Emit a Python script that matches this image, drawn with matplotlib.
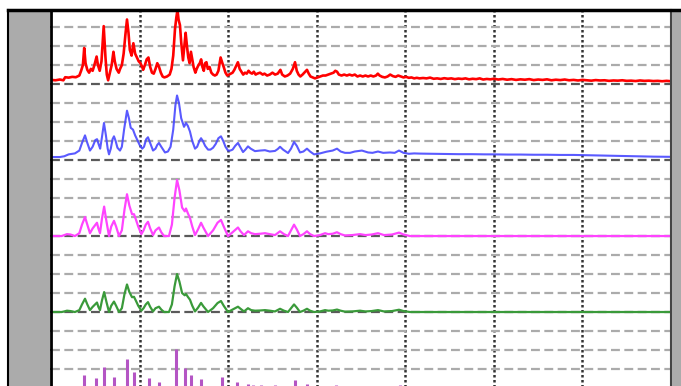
import matplotlib
matplotlib.use("Agg")
import matplotlib.pyplot as plt
from matplotlib.patches import Rectangle
from matplotlib.lines import Line2D

# x positions are in grid units (one vertical grid line every 100)
red_x = [0, 5, 10, 14, 16, 20, 24, 28, 32, 34, 36, 37.5, 39, 41, 43, 45, 47, 49, 51.5, 53,
         55, 57, 59.5, 61.5, 63, 64.5, 66.5, 68.5, 70.5, 72, 74, 76.5, 78, 80, 82, 84, 85.8,
         87.5, 89, 91, 93, 95, 97, 99, 101, 103, 104, 106, 108, 110, 112, 114, 116, 118, 120,
         122, 124, 126, 128, 131, 134, 136, 138, 140, 141.5, 142.8, 144, 145.6, 147, 149,
         150.5, 152, 153.5, 155, 156.5, 158, 159.5, 161, 163, 164.5, 166.5, 168, 169.5, 171,
         172.5, 174, 175.5, 177, 179, 181, 183, 185, 187, 189, 191.5, 193.5, 195, 197, 199,
         201, 203, 205, 207, 209, 211, 213, 215, 217, 219, 221, 223, 225, 227, 229, 231, 233,
         236, 239, 241, 244, 247, 250, 253, 256, 259, 261, 264, 267, 270, 273, 275.5, 277.5,
         279.5, 281.5, 284, 287, 289, 291, 293, 295.5, 298, 301, 304, 307, 310, 313, 316, 319,
         321, 323, 325, 328, 331, 334, 337, 340, 343, 346, 349, 352, 355, 358, 361, 364, 367,
         369, 371, 374, 377, 380, 383, 386, 389, 392, 395, 398, 401, 404, 407, 410, 413, 416,
         420, 424, 428, 432, 436, 440, 444, 448, 452, 456, 460, 464, 468, 472, 476, 480, 484,
         488, 492, 496, 500, 505, 510, 515, 520, 525, 530, 535, 540, 545, 550, 555, 560, 565,
         570, 575, 580, 585, 590, 595, 600, 605, 610, 615, 620, 625, 630, 635, 640, 645, 650,
         655, 660, 665, 670, 675, 680, 685, 690, 695, 700]
red_y = [0.22, 0.2, 0.24, 0.2, 0.36, 0.34, 0.38, 0.36, 0.45, 0.7, 1.0, 1.9, 1.1, 0.75, 0.6, 0.8,
         0.7, 1.0, 1.45, 1.0, 0.7, 1.2, 3.05, 1.4, 0.5, 0.2, 0.6, 1.0, 1.7, 1.2, 0.8, 0.6, 0.8,
         1.0, 1.6, 2.6, 3.4, 2.7, 1.8, 1.5, 2.15, 1.6, 1.4, 1.2, 1.1, 0.9, 0.75, 1.0, 1.3, 1.4,
         0.9, 0.6, 0.55, 0.8, 1.1, 0.9, 0.6, 0.4, 0.35, 0.4, 0.5, 0.8, 1.5, 2.9, 3.5, 3.9, 3.4,
         3.1, 2.2, 1.25, 2.0, 2.7, 2.0, 1.4, 1.1, 1.7, 1.3, 0.9, 0.6, 0.8, 1.0, 1.1, 1.3, 0.9,
         0.7, 1.1, 1.15, 0.8, 0.9, 0.6, 0.5, 0.45, 0.5, 0.7, 1.4, 1.1, 0.9, 0.6, 0.45, 0.5,
         0.55, 0.6, 0.75, 0.95, 1.15, 0.8, 0.65, 0.5, 0.6, 0.55, 0.7, 0.6, 0.55, 0.65, 0.5,
         0.55, 0.6, 0.5, 0.55, 0.45, 0.5, 0.6, 0.5, 0.55, 0.75, 0.5, 0.4, 0.45, 0.55, 0.8,
         1.15, 0.7, 0.5, 0.4, 0.5, 0.65, 0.75, 0.55, 0.4, 0.35, 0.3, 0.35, 0.4, 0.45, 0.45,
         0.5, 0.55, 0.6, 0.7, 0.65, 0.5, 0.45, 0.5, 0.45, 0.5, 0.45, 0.5, 0.4, 0.45, 0.4, 0.45,
         0.4, 0.45, 0.4, 0.45, 0.55, 0.45, 0.38, 0.35, 0.4, 0.5, 0.42, 0.38, 0.45, 0.4, 0.35,
         0.38, 0.33, 0.35, 0.3, 0.33, 0.3, 0.32, 0.3, 0.34, 0.28, 0.3, 0.27, 0.31, 0.28, 0.3,
         0.26, 0.29, 0.27, 0.3, 0.25, 0.28, 0.26, 0.3, 0.24, 0.27, 0.25, 0.28, 0.24, 0.27,
         0.23, 0.26, 0.22, 0.25, 0.23, 0.26, 0.21, 0.24, 0.22, 0.25, 0.2, 0.23, 0.21, 0.24,
         0.2, 0.22, 0.19, 0.22, 0.2, 0.18, 0.21, 0.19, 0.2, 0.17, 0.19, 0.18, 0.2, 0.17, 0.18,
         0.16, 0.19, 0.17, 0.18, 0.16, 0.17, 0.15, 0.17, 0.15]

blue_x = [0, 10, 15, 20, 27, 32, 35, 38.4, 41, 44, 47, 50, 52, 54, 55.5, 57.5, 59.8, 62, 64,
          65.5, 67.5, 69.5, 71.1, 73, 75, 77.9, 80, 82.5, 85.8, 88, 90, 92.6, 95, 97.5, 100,
          103, 105, 107.5, 109.5, 112, 115.2, 118, 120, 121.9, 124.5, 128.7, 132, 135, 138,
          140.5, 142.3, 144.5, 147, 150.2, 152.4, 154.5, 156.9, 159.5, 162.6, 165, 167.5,
          169.4, 171.5, 174, 177.3, 180, 183, 186, 189, 191.9, 194.5, 197, 199.8, 202.5, 205,
          208, 211.1, 214, 216.8, 219.5, 222.4, 225.5, 230.3, 236, 241.6, 247, 252.9, 256,
          258.6, 262, 267.6, 271, 274.4, 277.5, 281.1, 285, 289, 292.5, 297, 303.7, 311, 318,
          322.9, 327, 331.9, 337.6, 343, 351, 358, 363, 369.2, 375, 382.8, 388, 392.9, 398,
          404, 410, 416.6, 430, 445, 460, 475, 490, 500, 515, 530, 545, 560, 575, 590, 600,
          620, 640, 660, 680, 700]
blue_y = [0.16, 0.16, 0.2, 0.3, 0.35, 0.5, 0.9, 1.3, 0.9, 0.5, 0.7, 1.05, 1.1, 0.8, 0.6, 1.2,
          1.95, 1.3, 0.6, 0.3, 0.6, 1.1, 1.25, 1.0, 0.65, 0.5, 0.7, 1.6, 2.6, 2.2, 1.7, 1.6,
          1.3, 1.05, 0.8, 0.6, 0.7, 1.1, 1.2, 0.9, 0.5, 0.6, 0.8, 0.9, 0.7, 0.4, 0.45, 0.7,
          1.6, 2.9, 3.4, 3.0, 2.2, 1.75, 1.95, 1.8, 1.5, 1.0, 0.6, 0.7, 1.0, 1.15, 1.0, 0.75,
          0.55, 0.55, 0.65, 0.85, 1.15, 1.25, 1.0, 0.7, 0.5, 0.5, 0.55, 0.75, 0.9, 0.65, 0.42,
          0.55, 0.72, 0.6, 0.47, 0.5, 0.52, 0.45, 0.48, 0.58, 0.7, 0.55, 0.37, 0.6, 0.95, 0.75,
          0.4, 0.45, 0.6, 0.45, 0.3, 0.35, 0.44, 0.5, 0.6, 0.45, 0.38, 0.38, 0.45, 0.5, 0.4,
          0.38, 0.45, 0.38, 0.4, 0.38, 0.5, 0.38, 0.33, 0.35, 0.34, 0.33, 0.32, 0.31, 0.31,
          0.3, 0.3, 0.29, 0.29, 0.28, 0.28, 0.27, 0.27, 0.26, 0.24, 0.22, 0.2, 0.18, 0.17]

peak_x = [0, 12, 15, 18, 22, 27, 32, 35, 38.4, 41, 44, 47, 51.9, 53.5, 55.3, 57.5, 60, 62.5,
          65.5, 68, 71.1, 73.5, 76.8, 80, 83, 85.8, 88.5, 91.5, 93.7, 96, 98.5, 102, 104.5,
          107, 109.5, 112, 115.2, 118, 121.9, 124.5, 127.6, 133.2, 136.5, 139.5, 142.3, 145,
          148, 151, 152.4, 154.5, 156.9, 159.5, 162.6, 166, 169.4, 172, 177.3, 183, 188, 191.9,
          195, 199.8, 205, 211.1, 214, 217.9, 222.4, 226, 230.3, 236, 241.6, 247, 252.9, 258.6,
          263, 267.6, 271, 274.4, 277.5, 281.1, 285, 289, 292.5, 296.9, 303.7, 309.4, 313, 318,
          322.9, 327, 331.9, 340, 348.9, 355, 362, 369.2, 376, 385, 392.9, 398, 405.3, 700]
magenta_y = [0, 0, 0.05, 0.1, 0.08, 0, 0.15, 0.6, 1.0, 0.6, 0.15, 0.4, 0.7, 0.4, 0.15, 0.9,
             1.55, 0.8, 0, 0.5, 0.8, 0.5, 0, 0.3, 1.4, 2.2, 1.6, 1.15, 1.15, 0.85, 0.5, 0.1,
             0.3, 0.6, 0.75, 0.4, 0.05, 0.3, 0.45, 0.2, 0, 0, 0.6, 2.0, 2.95, 2.4, 1.5, 1.3,
             1.45, 1.2, 0.95, 0.5, 0.05, 0.35, 0.7, 0.45, 0, 0.3, 0.7, 0.85, 0.5, 0, 0.2, 0.45,
             0.25, 0.05, 0.25, 0.15, 0.1, 0.12, 0.15, 0.1, 0.05, 0.25, 0.1, 0, 0.3, 0.6, 0.35,
             0, 0.1, 0.25, 0.1, 0, 0.05, 0.15, 0.1, 0.12, 0.2, 0.1, 0.03, 0.05, 0.1, 0.05, 0.08,
             0.15, 0.05, 0.08, 0.18, 0.08, 0, 0]
green_y = [0, 0, 0.03, 0.07, 0.05, 0, 0.1, 0.4, 0.7, 0.4, 0.1, 0.27, 0.5, 0.27, 0.1, 0.6,
           1.05, 0.55, 0, 0.33, 0.55, 0.33, 0, 0.2, 0.95, 1.45, 1.05, 0.78, 0.8, 0.58, 0.33,
           0.07, 0.2, 0.4, 0.52, 0.27, 0.03, 0.2, 0.28, 0.13, 0, 0, 0.4, 1.35, 2.0, 1.6, 1.0,
           0.88, 0.95, 0.8, 0.65, 0.33, 0.03, 0.23, 0.48, 0.3, 0, 0.2, 0.47, 0.58, 0.33, 0,
           0.13, 0.28, 0.17, 0.03, 0.2, 0.1, 0.07, 0.08, 0.1, 0.07, 0.03, 0.17, 0.07, 0, 0.2,
           0.4, 0.23, 0, 0.07, 0.17, 0.07, 0, 0.03, 0.1, 0.07, 0.08, 0.13, 0.07, 0.02, 0.03,
           0.07, 0.03, 0.05, 0.1, 0.03, 0.05, 0.12, 0.05, 0, 0]

stem_x = [18, 37.3, 50.8, 59.8, 71.1, 85.8, 93.7, 110.6, 121.9, 141.1, 151.3, 158.1, 169.4,
          193.1, 210.0, 222.4, 228.1, 237.1, 252.9, 275.5, 289.0, 312.7, 321.8, 351.1, 369.2,
          394.0]
stem_h = [0.05, 0.68, 0.52, 1.1, 0.58, 1.53, 0.84, 0.55, 0.33, 2.05, 1.05, 0.68, 0.47, 0.58,
          0.3, 0.2, 0.18, 0.15, 0.18, 0.42, 0.2, 0.12, 0.15, 0.1, 0.12, 0.15]

W, H = 681, 386


def fx(px):
    return px / W


def fy(py):
    return 1 - py / H


fig = plt.figure(figsize=(W / 100, H / 100), dpi=100)
fig.patch.set_facecolor("white")

# grey frame strips on the left and right
fig.add_artist(Rectangle((fx(8), 0), fx(50) - fx(8), fy(10), transform=fig.transFigure,
                         facecolor="#ababab", edgecolor="none"))
fig.add_artist(Rectangle((fx(672), 0), 1 - fx(672), fy(10), transform=fig.transFigure,
                         facecolor="#ababab", edgecolor="none"))
fig.add_artist(Line2D([fx(8), fx(8)], [0, fy(10)], transform=fig.transFigure,
                      color="black", lw=1.5))

ax = fig.add_axes([fx(51), fy(388), fx(671) - fx(51), fy(10) - fy(388)])
ax.set_xlim(0, 700)
ax.set_ylim(0, 19.9)

ax.set_xticks(range(100, 700, 100))
ax.set_yticks([0, 4, 8, 12, 16])
ax.set_yticks([v for v in range(1, 20) if v % 4 != 0], minor=True)
ax.set_axisbelow(True)
ax.grid(True, which="major", axis="x", color="#333333", linestyle=(0, (1, 1)), lw=1.8)
ax.grid(True, which="major", axis="y", color="#5a5a5a", linestyle=(0, (4, 2)), lw=1.6)
ax.grid(True, which="minor", axis="y", color="#ababab", linestyle=(0, (4, 2)), lw=1.6)
ax.tick_params(axis="x", length=0, labelbottom=False)
ax.tick_params(axis="y", which="both", direction="out", length=3, width=1.2,
               color="#333333", labelleft=False)

for side in ["left", "top"]:
    ax.spines[side].set_color("black")
    ax.spines[side].set_linewidth(2)
ax.spines["right"].set_color("#444444")
ax.spines["right"].set_linewidth(1.5)
ax.spines["bottom"].set_visible(False)

ax.plot(red_x, [v + 16 for v in red_y], color="#ff0000", lw=1.9)
ax.plot(blue_x, [v + 12 for v in blue_y], color="#4848ff", lw=1.5, alpha=0.9)
ax.plot(peak_x, [v + 8 for v in magenta_y], color="#ff44ff", lw=1.6)
ax.plot(peak_x, [v + 4 for v in green_y], color="#3a9a3a", lw=1.6)
ax.vlines(stem_x, 0, stem_h, color="#b455c4", lw=2.2)

fig.add_artist(Line2D([fx(8), 1], [fy(10), fy(10)], transform=fig.transFigure,
                      color="black", lw=2.5))

fig.savefig("out.png", dpi=100)
